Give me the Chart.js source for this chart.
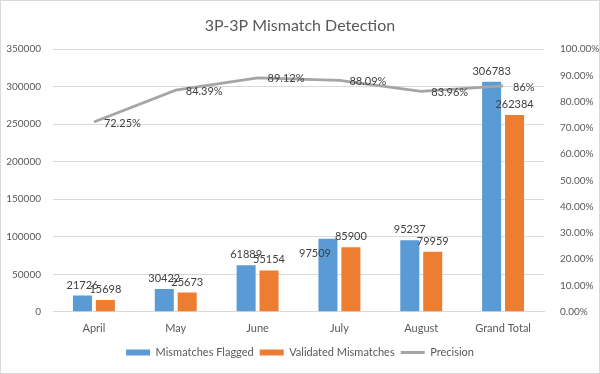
<!DOCTYPE html>
<html>
<head>
<meta charset="utf-8">
<script src="https://cdn.jsdelivr.net/npm/chart.js@4.4.1/dist/chart.umd.min.js"></script>
<style>
  html, body { margin: 0; padding: 0; background: #fff; }
  #wrap { width: 598px; height: 372px; border: 1px solid #d9d9d9; position: relative; }
</style>
</head>
<body>
<div id="wrap"><canvas id="chart" width="598" height="372"></canvas></div>
<script>
// ---- data ----
const months = ["April", "May", "June", "July", "August", "Grand Total"];
const flagged = [21726, 30422, 61889, 97509, 95237, 306783];
const validated = [15698, 25673, 55154, 85900, 79959, 262384];
const precision = [0.7225, 0.8439, 0.8912, 0.8809, 0.8396, 0.86];
const precisionLabels = ["72.25%", "84.39%", "89.12%", "88.09%", "83.96%", "86%"];

const textColor = "#595959";
const fontFamily = "Lato, 'Open Sans', sans-serif";

// Excel nudged a label by hand (dataset-index key)
const labelNudge = { "0-3": [-13, 25] };

// draws the value labels (no datalabels plugin available)
const valueLabels = {
  id: "valueLabels",
  afterDatasetsDraw(chart) {
    const ctx = chart.ctx;
    ctx.save();
    ctx.font = "11px " + fontFamily;
    ctx.fillStyle = "#404040";
    chart.data.datasets.forEach((ds, di) => {
      const meta = chart.getDatasetMeta(di);
      meta.data.forEach((el, i) => {
        const nudge = labelNudge[di + "-" + i] || [0, 0];
        if (ds.type === "line") {
          ctx.textAlign = "left";
          ctx.textBaseline = "middle";
          ctx.fillText(precisionLabels[i], el.x + 10 + nudge[0], el.y + 1 + nudge[1]);
        } else {
          ctx.textAlign = "center";
          ctx.textBaseline = "bottom";
          ctx.fillText(ds.data[i], el.x + nudge[0], el.y - 5 + nudge[1]);
        }
      });
    });
    ctx.restore();
  },
};

new Chart(document.getElementById("chart"), {
  data: {
    labels: months,
    datasets: [
      {
        type: "bar",
        label: "Mismatches Flagged",
        data: flagged,
        backgroundColor: "#5b9bd5",
        yAxisID: "y",
        order: 2,
      },
      {
        type: "bar",
        label: "Validated Mismatches",
        data: validated,
        backgroundColor: "#ed7d31",
        yAxisID: "y",
        order: 2,
      },
      {
        type: "line",
        label: "Precision",
        data: precision,
        borderColor: "#a5a5a5",
        backgroundColor: "#a5a5a5",
        borderWidth: 2.75,
        pointRadius: 0,
        tension: 0,
        yAxisID: "y1",
        order: 1,
      },
    ],
  },
  options: {
    responsive: false,
    animation: false,
    layout: { padding: { top: 0, bottom: 5, left: 0, right: 0 } },
    datasets: {
      bar: { categoryPercentage: 0.56, barPercentage: 0.83 },
    },
    plugins: {
      title: {
        display: true,
        text: "3P-3P Mismatch Detection",
        color: textColor,
        font: { family: fontFamily, size: 16, weight: "normal" },
        padding: { top: 15, bottom: 14 },
      },
      legend: {
        position: "bottom",
        labels: {
          color: textColor,
          font: { family: fontFamily, size: 11 },
          usePointStyle: true,
          pointStyleWidth: 24,
          boxHeight: 6,
          padding: 6,
          generateLabels(chart) {
            const items = Chart.defaults.plugins.legend.labels.generateLabels(chart);
            items.sort((a, b) => a.datasetIndex - b.datasetIndex);
            items.forEach((it) => {
              const isLine = it.datasetIndex === 2;
              it.pointStyle = isLine ? "line" : "rect";
              it.lineWidth = isLine ? 3 : 0;
            });
            return items;
          },
        },
      },
      tooltip: { enabled: false },
    },
    scales: {
      x: {
        grid: { display: false },
        border: { color: "#d9d9d9" },
        ticks: { color: textColor, font: { family: fontFamily, size: 11 }, padding: 2 },
        afterFit(scale) { scale.height = scale.height + 4; },
      },
      y: {
        position: "left",
        min: 0,
        max: 350000,
        grid: { color: "#d9d9d9", drawTicks: false },
        border: { display: false },
        ticks: {
          stepSize: 50000,
          color: textColor,
          font: { family: fontFamily, size: 10 },
          padding: 12,
          callback: (v) => String(v),
        },
        afterFit(scale) { scale.width = 52; },
      },
      y1: {
        position: "right",
        min: 0,
        max: 1,
        grid: { display: false },
        border: { display: false },
        ticks: {
          stepSize: 0.1,
          color: textColor,
          font: { family: fontFamily, size: 10 },
          padding: 8,
          callback: (v) => (v * 100).toFixed(2) + "%",
        },
        afterFit(scale) { scale.width = 55; },
      },
    },
  },
  plugins: [valueLabels],
});
</script>
</body>
</html>
